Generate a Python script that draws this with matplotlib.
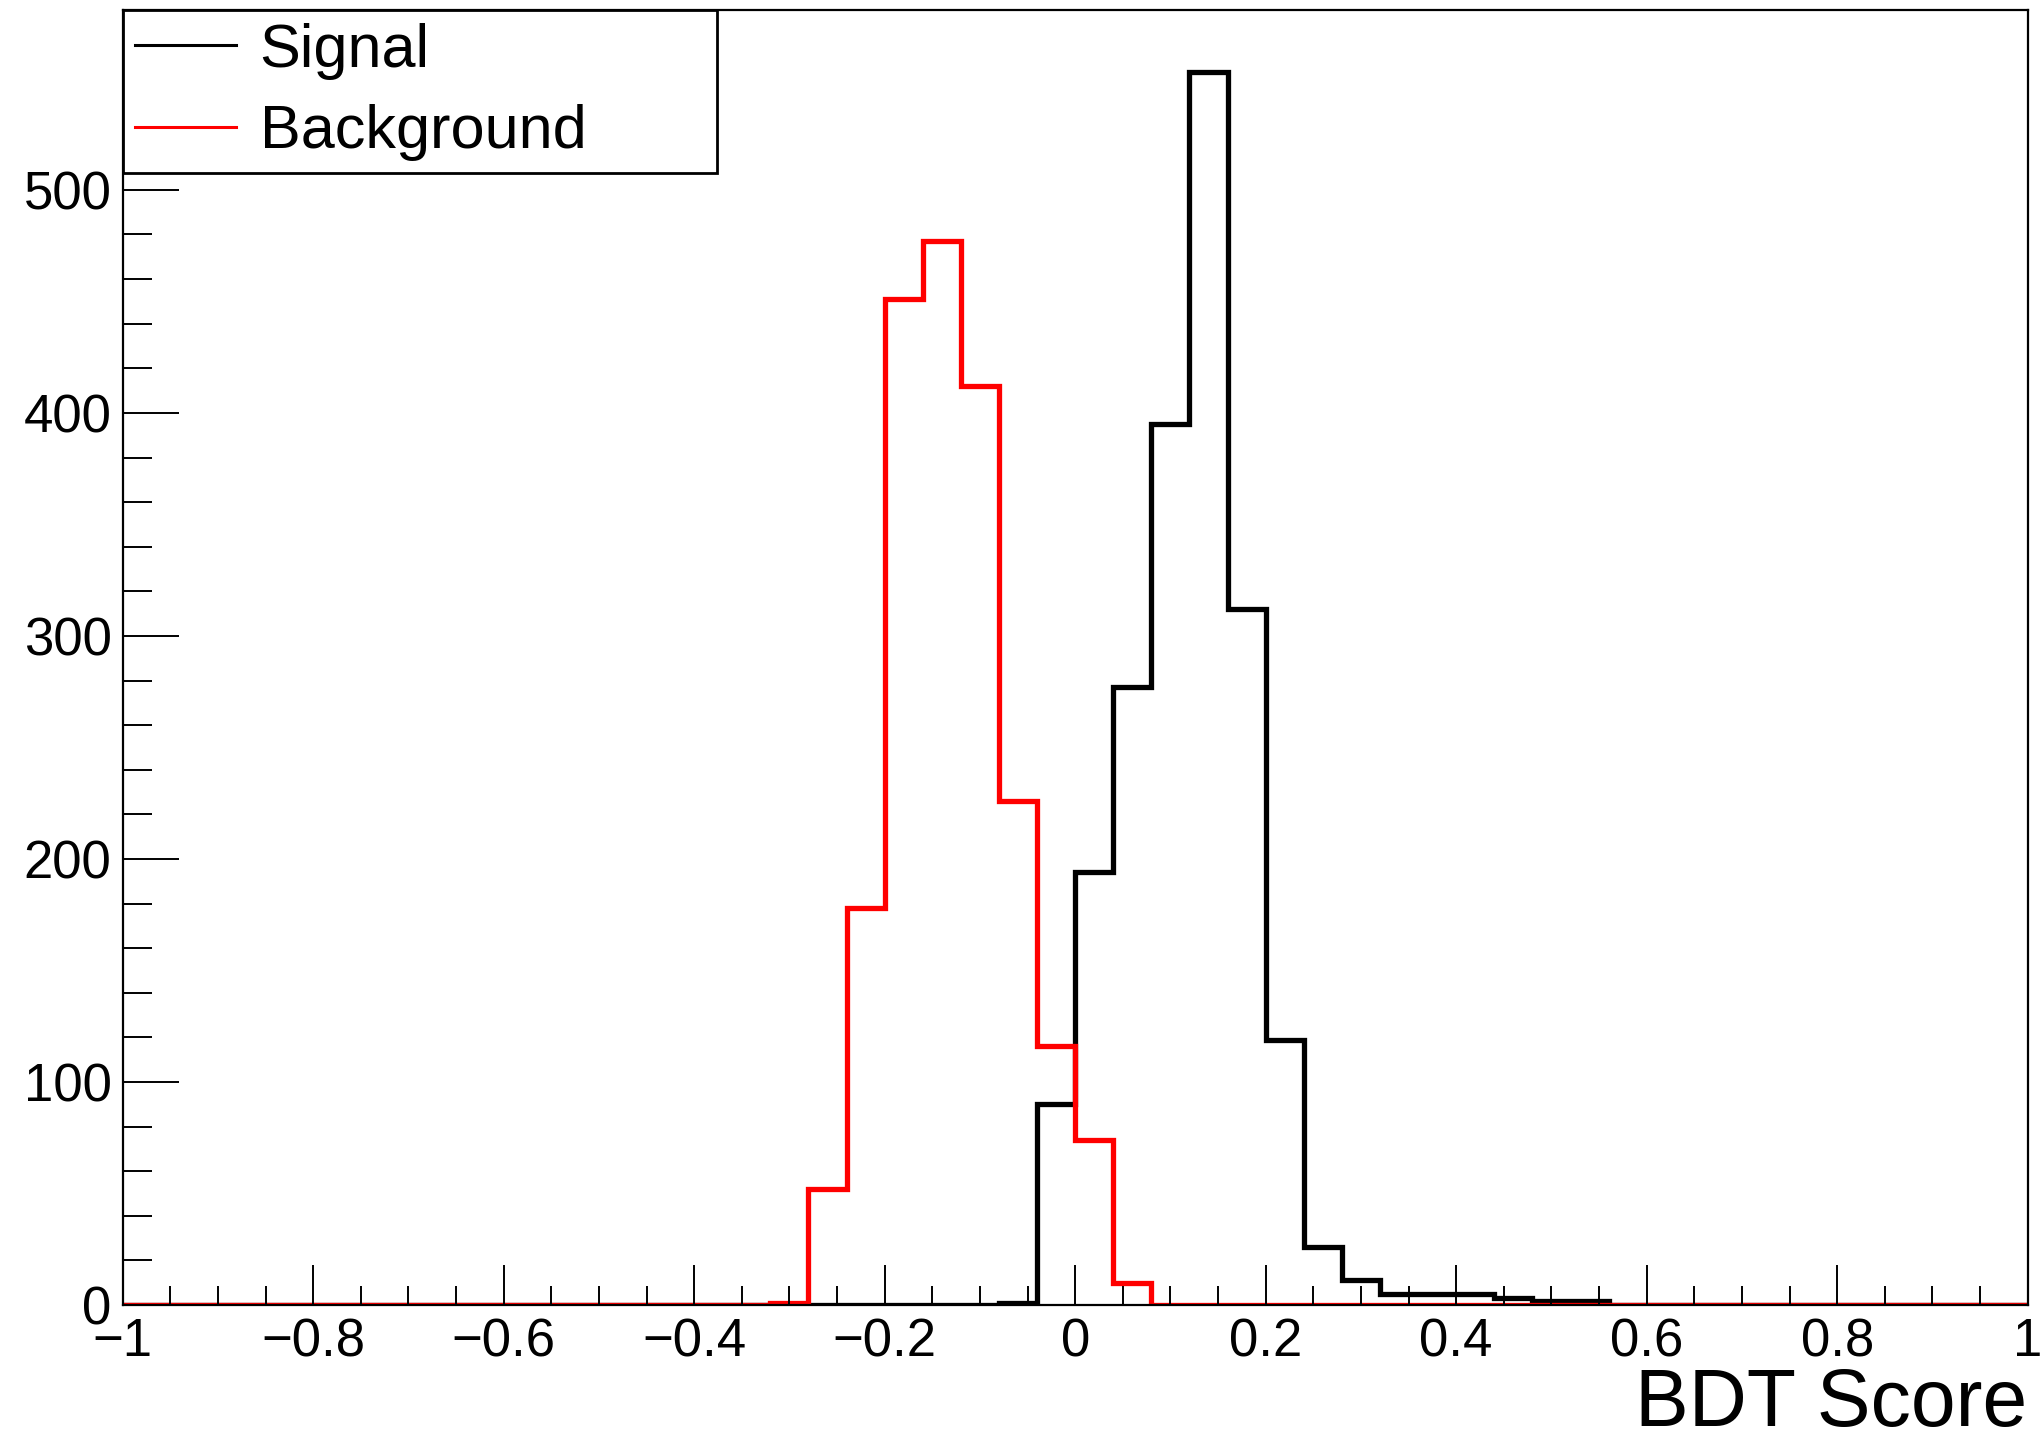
import numpy as np
import matplotlib
matplotlib.use("Agg")
import matplotlib.pyplot as plt
from matplotlib.ticker import MultipleLocator, FuncFormatter
from matplotlib.lines import Line2D

# BDT score histograms, 50 bins from -1 to 1
bin_low = -1.0
bin_high = 1.0
n_bins = 50

signal_counts = [0] * 23 + [1, 90, 194, 277, 395, 553, 312, 119, 26, 11,
                            5, 5, 5, 3, 2, 2] + [0] * 11
background_counts = [0] * 17 + [1, 52, 178, 451, 477, 412, 226, 116, 74, 10] + [0] * 23

labels = ["Signal", "Background"]
x_title = "BDT Score"

plt.rcParams['font.family'] = ['Liberation Sans', 'DejaVu Sans']


def root_label(value, pos):
    # ROOT style: no trailing zeros, proper minus sign
    text = "%g" % round(value, 6)
    if text == "-0":
        text = "0"
    return text.replace("-", "\u2212")


fig = plt.figure(figsize=(20.44, 14.38), dpi=100)
ax = fig.add_axes([0.06, 0.0925, 0.932, 0.9003])

edges = np.linspace(bin_low, bin_high, n_bins + 1)
ax.stairs(signal_counts, edges, color="black", linewidth=3.8, baseline=None)
ax.stairs(background_counts, edges, color="red", linewidth=3.8, baseline=None)

ax.set_xlim(bin_low, bin_high)
ax.set_ylim(0, 580.5)

ax.xaxis.set_major_locator(MultipleLocator(0.2))
ax.xaxis.set_minor_locator(MultipleLocator(0.05))
ax.yaxis.set_major_locator(MultipleLocator(100))
ax.yaxis.set_minor_locator(MultipleLocator(20))
ax.xaxis.set_major_formatter(FuncFormatter(root_label))
ax.yaxis.set_major_formatter(FuncFormatter(root_label))

ax.tick_params(axis="both", which="both", direction="in", width=1.4,
               labelsize=38, top=False, right=False)
ax.tick_params(axis="x", which="major", length=29, pad=9)
ax.tick_params(axis="x", which="minor", length=14)
ax.tick_params(axis="y", which="major", length=40, pad=8)
ax.tick_params(axis="y", which="minor", length=21)

for spine in ax.spines.values():
    spine.set_linewidth(1.6)

ax.set_xlabel(x_title, fontsize=58, loc="right", labelpad=0)

handles = [Line2D([], [], color="black", linewidth=2.2),
           Line2D([], [], color="red", linewidth=2.2)]
leg = ax.legend(handles, labels, loc="upper left", fontsize=44,
                bbox_to_anchor=(0.0, 0.0, 0.312, 1.0), mode="expand",
                borderaxespad=0.0, frameon=True, fancybox=False,
                framealpha=1.0, edgecolor="black", handlelength=1.66,
                handletextpad=0.38, borderpad=0.2, labelspacing=0.4)
leg.get_frame().set_linewidth(2.0)

fig.savefig("out.png", dpi=100)
